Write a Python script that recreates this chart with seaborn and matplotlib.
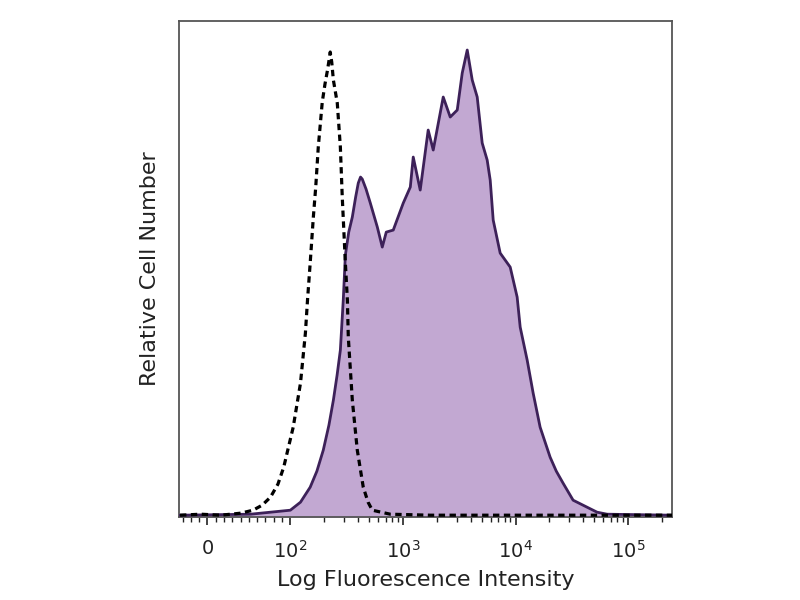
import numpy as np
import pandas as pd
import seaborn as sns
import matplotlib.pyplot as plt

# isotype control (dashed outline)
ctrl_x = [-33, -8, 16, 40, 55, 66, 76, 85, 92, 106, 123, 136, 142, 150, 160, 168,
          177, 192, 203, 213, 220, 226, 233, 241, 261, 278, 289, 308, 321, 327,
          355, 393, 444, 490, 534, 771, 1750, 7300, 56300, 245000]
ctrl_y = [2, 3, 2, 4, 7, 12, 20, 33, 50, 90, 134, 184, 217, 254, 300, 330,
          370, 415, 433, 446, 456, 465, 455, 437, 414, 370, 320, 254, 217, 180,
          117, 67, 30, 15, 7, 3, 2, 2, 2, 2]

# stained sample (filled histogram)
stain_x = [-33, 52, 100, 123, 150, 172, 196, 220, 241, 260, 278, 295, 308, 330,
           355, 380, 401, 420, 435, 470, 513, 592, 655, 711, 820, 1006, 1162,
           1234, 1423, 1675, 1857, 2278, 2628, 3034, 3360, 3722, 4122, 4564,
           5054, 5596, 5953, 6330, 7300, 8960, 10330, 10990, 12680, 14330,
           16520, 20270, 23000, 26430, 32430, 43150, 52950, 65000, 245000]
stain_y = [2, 3, 7, 15, 30, 46, 67, 92, 117, 142, 167, 217, 262, 285,
           300, 320, 334, 340, 338, 328, 314, 290, 270, 285, 287, 314, 330,
           360, 327, 387, 367, 420, 400, 407, 444, 467, 437, 420,
           374, 357, 337, 297, 264, 250, 220, 190, 157, 124,
           90, 60, 46, 34, 17, 10, 5, 3, 2]

tick_vals = [0, 100, 1000, 10000, 100000]
tick_labels = ['0', '$10^2$', '$10^3$', '$10^4$', '$10^5$']

sns.set_style('white')
plt.rcParams['font.family'] = ['DejaVu Sans']

fig, ax = plt.subplots(figsize=(8, 6), dpi=100)
fig.subplots_adjust(left=0.224, right=0.84, bottom=0.138, top=0.965)

ctrl = pd.DataFrame({'x': ctrl_x, 'y': ctrl_y})
stain = pd.DataFrame({'x': stain_x, 'y': stain_y})

ax.fill_between(stain['x'], 0, stain['y'], color='#c2a8d2', lw=0, zorder=1)
sns.lineplot(data=stain, x='x', y='y', ax=ax, color='#3d2159', lw=2.0, zorder=3)
sns.lineplot(data=ctrl, x='x', y='y', ax=ax, color='black', lw=2.3,
             dashes=False, zorder=4).lines[-1].set_dashes((2.0, 1.4))

ax.set_xscale('symlog', linthresh=100, linscale=0.663)
ax.set_xlim(-34, 245000)
ax.set_ylim(0, 496)

minor = [-30, -20, -10] + list(range(10, 100, 10))
for d in [100, 1000, 10000, 100000]:
    minor += [k * d for k in range(2, 10)]
minor = [m for m in minor if m < 245000]
ax.set_xticks(minor, minor=True)
ax.set_xticks(tick_vals)
ax.set_xticklabels(tick_labels, fontsize=14, color='#222222')
ax.tick_params(axis='x', which='major', direction='out', length=6, width=1.2,
               bottom=True, pad=10, colors='#222222')
ax.tick_params(axis='x', which='minor', direction='out', length=3.5, width=1.0,
               bottom=True, colors='#222222')
ax.set_yticks([])

for s in ax.spines.values():
    s.set_visible(True)
    s.set_color('#555555')
    s.set_linewidth(1.3)

ax.set_xlabel('Log Fluorescence Intensity', fontsize=16, color='#222222', labelpad=6)
ax.set_ylabel('Relative Cell Number', fontsize=16, color='#222222', labelpad=14)

plt.savefig('out.png')
plt.close()
